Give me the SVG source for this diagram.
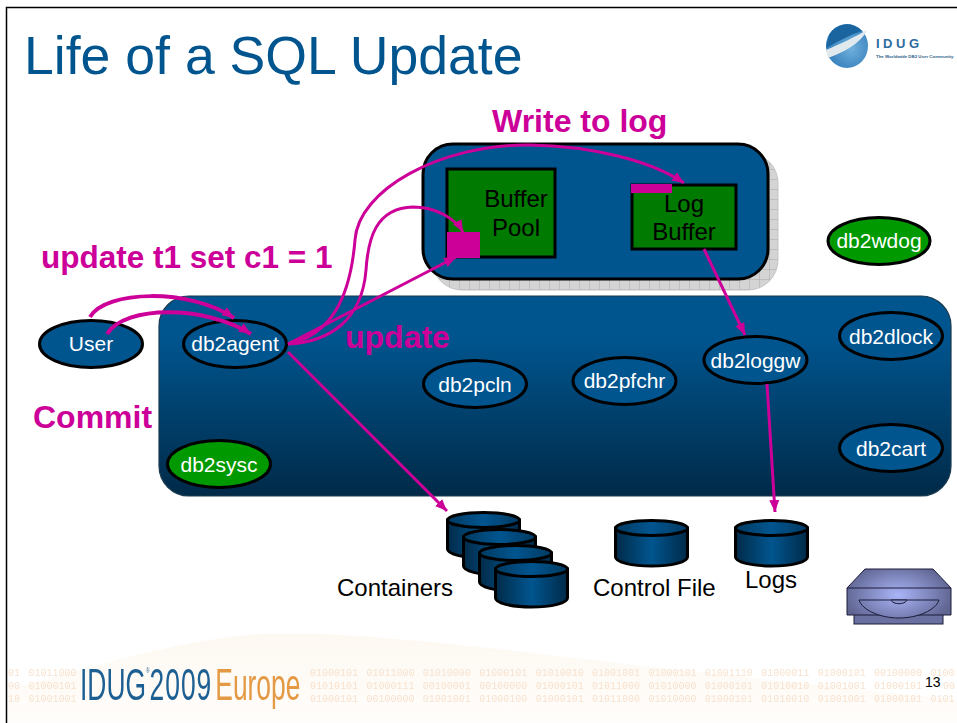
<svg xmlns="http://www.w3.org/2000/svg" width="957" height="723" viewBox="0 0 957 723">
<style>
.sans{font-family:"Liberation Sans",Arial,sans-serif}
.pm{font-family:"Liberation Sans",Arial,sans-serif;font-weight:bold;fill:#cc0099;font-size:32px}
.lbl{font-family:"Liberation Sans",Arial,sans-serif;font-size:21px;fill:#fff;text-anchor:middle}
.blk{font-family:"Liberation Sans",Arial,sans-serif;font-size:24px;fill:#000}
.mid{text-anchor:middle}
.blue{fill:#00558f;stroke:#000;stroke-width:3}
.green{fill:#009900;stroke:#000;stroke-width:3}
.box{fill:#007a00;stroke:#000;stroke-width:3}
.pink{fill:#cc0099}
.con{fill:none;stroke:#cc0099;stroke-width:3}
.bin{font-family:"Liberation Mono",monospace;font-size:10px;fill:#f7e2ce;word-spacing:2.4px}
</style>
<defs>
<linearGradient id="panel" x1="0" y1="0" x2="0" y2="1"><stop offset="0" stop-color="#00558f"/><stop offset="0.2" stop-color="#00558f"/><stop offset="1" stop-color="#002a48"/></linearGradient>
<linearGradient id="cyl" x1="0" y1="0" x2="1" y2="0"><stop offset="0" stop-color="#002a48"/><stop offset="0.5" stop-color="#00558f"/><stop offset="1" stop-color="#002a48"/></linearGradient>
<linearGradient id="cyltop" x1="0" y1="0" x2="1" y2="0"><stop offset="0" stop-color="#003a62"/><stop offset="0.5" stop-color="#00558f"/><stop offset="1" stop-color="#003a62"/></linearGradient>
<radialGradient id="drive" gradientUnits="userSpaceOnUse" cx="898" cy="595" r="55" gradientTransform="translate(898 595) scale(1 .6) translate(-898 -595)"><stop offset="0" stop-color="#aab5f8"/><stop offset="1" stop-color="#5f6490"/></radialGradient>
<linearGradient id="wave" x1="0" y1="0" x2="0" y2="1"><stop offset="0" stop-color="#fdf8f1"/><stop offset="1" stop-color="#fffdfb"/></linearGradient>
<radialGradient id="globe" cx="0.6" cy="0.55" r="0.8"><stop offset="0" stop-color="#6fb0dc"/><stop offset="1" stop-color="#1f6cb0"/></radialGradient>
<pattern id="grid" width="10" height="10" patternUnits="userSpaceOnUse"><rect width="10" height="10" fill="#d4d4d4"/><path d="M10,0V10M0,10H10" stroke="#a8a8a8" stroke-width="1" fill="none"/></pattern>
<marker id="arr" markerUnits="userSpaceOnUse" markerWidth="14" markerHeight="12" refX="12" refY="5" orient="auto"><path d="M0,0L12,5L0,10z" fill="#cc0099"/></marker>
<symbol id="can" width="75" height="48" viewBox="0 0 75 48" overflow="visible"><path d="M1.500,9V38C1.500,43 17,47 37.500,47S73.500,43 73.500,38V9z" fill="url(#cyl)" stroke="#000" stroke-width="3"/><ellipse cx="37.500" cy="9" rx="36" ry="7.500" fill="url(#cyltop)" stroke="#000" stroke-width="3"/></symbol>
<filter id="soft" x="-5%" y="-5%" width="110%" height="110%"><feGaussianBlur stdDeviation="0.45"/></filter>
</defs>

<rect width="957" height="723" fill="#fff"/>
<g id="footer-background">
<path d="M7,690C100,665 180,640 260,634C360,630 500,650 660,668L957,700V723H7z" fill="url(#wave)"/>
</g>
<path d="M6.500,723V7.500H957" fill="none" stroke="#000" stroke-width="1.500"/>

<g id="binary-strip" filter="url(#soft)">
<text class="bin" x="8" y="676">01 01011000</text><text class="bin" x="8" y="689">00 01000101</text><text class="bin" x="8" y="702">10 01001001</text>
<text class="bin" x="310" y="676">01000101 01011000 01010000 01000101 01010010 01001001 01000101 01001110 01000011 01000101 00100000 0100</text>
<text class="bin" x="310" y="689">01010101 01000111 00100001 00100000 01000101 01011000 01010000 01000101 01010010 01001001 01000101</text>
<text class="bin" x="943" y="689">00</text>
<text class="bin" x="310" y="702">01000101 00100000 01001001 01000100 01000101 01011000 01010000 01000101 01010010 01001001 01000101 0101</text>
</g>
<g id="footer-logo" filter="url(#soft)">
<text class="sans" transform="translate(80,700) scale(0.6,1)" font-size="44" fill="#1d5f93">IDUG<tspan font-size="8" dy="-27">®</tspan><tspan dy="27" letter-spacing="1.700">2009</tspan><tspan dx="5" fill="#e49a45">Europe</tspan></text>
</g>
<text id="page-number" class="sans" x="925" y="687" font-size="14" fill="#000">13</text>

<text id="title" class="sans" x="24" y="74" font-size="53.600" fill="#00558f">Life of a SQL Update</text>
<g id="idug-logo">
<ellipse cx="847" cy="46" rx="21" ry="22" fill="url(#globe)"/>
<path d="M826,50C840,44 855,37 867,30C862,42 845,52 828,58z" fill="#dfe9ee"/>
<path d="M829,35A21,22 0 0 1 862,31C850,35 838,41 826,48z" fill="#1a659f"/>
<text class="sans" x="876" y="48" font-size="13" font-weight="bold" fill="#2d6ca0" letter-spacing="3.500">IDUG</text>
<text class="sans" x="876" y="58" font-size="4.400" font-weight="bold" fill="#2d5f8a">The Worldwide DB2 User Community</text>
</g>

<g id="memory-panel">
<rect x="432" y="153" width="346" height="137" rx="30" fill="url(#grid)" stroke="#c4c4c4"/>
<rect x="423" y="144" width="345" height="135" rx="30" fill="#00558f" stroke="#000" stroke-width="3"/>
</g>
<g id="buffer-pool">
<rect class="box" x="447" y="169" width="108" height="88"/>
<rect class="pink" x="447" y="232" width="33" height="26"/>
<text class="blk mid" x="516" y="207">Buffer</text>
<text class="blk mid" x="516" y="236">Pool</text>
</g>
<g id="log-buffer">
<rect class="box" x="632" y="185" width="104" height="64"/>
<rect class="pink" x="631" y="184" width="41" height="9"/>
<text class="blk mid" x="684" y="212">Log</text>
<text class="blk mid" x="684" y="240">Buffer</text>
</g>
<g id="engine-panel"><rect x="159" y="296" width="792" height="200" rx="30" fill="url(#panel)" stroke="#1a3a50" stroke-width="1.200"/></g>

<g id="db2wdog"><ellipse class="green" cx="879" cy="241" rx="51" ry="23.500"/><text class="lbl" x="879" y="248">db2wdog</text></g>
<g id="user"><ellipse class="blue" cx="91" cy="344" rx="51.500" ry="23.500"/><text class="lbl" x="91" y="351">User</text></g>
<g id="db2agent"><ellipse class="blue" cx="235" cy="344" rx="51.500" ry="23.500"/><text class="lbl" x="235" y="351">db2agent</text></g>
<g id="db2pcln"><ellipse class="blue" cx="475" cy="384" rx="51.500" ry="23.500"/><text class="lbl" x="475" y="392">db2pcln</text></g>
<g id="db2pfchr"><ellipse class="blue" cx="624.500" cy="381" rx="51.500" ry="23.500"/><text class="lbl" x="624.500" y="388">db2pfchr</text></g>
<g id="db2loggw"><ellipse class="blue" cx="755.500" cy="360" rx="51.500" ry="23.500"/><text class="lbl" x="755.500" y="368">db2loggw</text></g>
<g id="db2dlock"><ellipse class="blue" cx="891" cy="336" rx="51.500" ry="23.500"/><text class="lbl" x="891" y="344">db2dlock</text></g>
<g id="db2cart"><ellipse class="blue" cx="891" cy="448" rx="51.500" ry="23.500"/><text class="lbl" x="891" y="456">db2cart</text></g>
<g id="db2sysc"><ellipse class="green" cx="219" cy="464" rx="51.500" ry="23.500"/><text class="lbl" x="219" y="472">db2sysc</text></g>

<g id="containers">
<use href="#can" x="446" y="511"/><use href="#can" x="462" y="528"/><use href="#can" x="478" y="544"/><use href="#can" x="494" y="560"/>
<text class="blk" x="337" y="596">Containers</text>
</g>
<g id="control-file"><use href="#can" x="614" y="519"/><text class="blk" x="593" y="596">Control File</text></g>
<g id="logs"><use href="#can" x="734" y="519"/><text class="blk" x="745" y="588">Logs</text></g>
<g id="disk-drive" stroke="#1c1c3a" stroke-width="1">
<rect x="854" y="614" width="89" height="10" fill="#6a70a0"/>
<path d="M865,569H933L951,588V615H847V588z" fill="url(#drive)"/>
<path d="M847,588H951" fill="none"/>
<path d="M859,600H939C936,610 918,618 899,618C880,618 862,610 859,600z" fill="url(#drive)"/>
<path d="M891,600C893,605 905,605 907,600z" fill="#8f96cf"/>
</g>

<g id="labels">
<text class="pm" x="41" y="268" style="font-size:31.500px">update t1 set c1 = 1</text>
<text class="pm" x="492" y="132">Write to log</text>
<text class="pm" x="345" y="348">update</text>
<text class="pm" x="33" y="428">Commit</text>
</g>

<g id="connectors">
<path class="con" style="stroke-width:4" d="M90,317C105,290 190,288 234,318" marker-end="url(#arr)"/>
<path class="con" style="stroke-width:4" d="M107,334C125,305 205,305 251,334" marker-end="url(#arr)"/>
<path class="con" d="M288,344C330,335 350,300 355,240C358,190 440,144 530,145C590,146 650,160 684,183" marker-end="url(#arr)"/>
<path class="con" d="M288,344C330,342 362,320 366,270C368,240 375,208 413,207C435,207 455,218 463,232" marker-end="url(#arr)"/>
<path class="con" d="M288,344L456,257" marker-end="url(#arr)"/>
<path class="con" d="M288,352L447,511" marker-end="url(#arr)"/>
<path class="con" d="M704,249L745,335" marker-end="url(#arr)"/>
<path class="con" d="M767,384L775,512" marker-end="url(#arr)"/>
</g>
</svg>
